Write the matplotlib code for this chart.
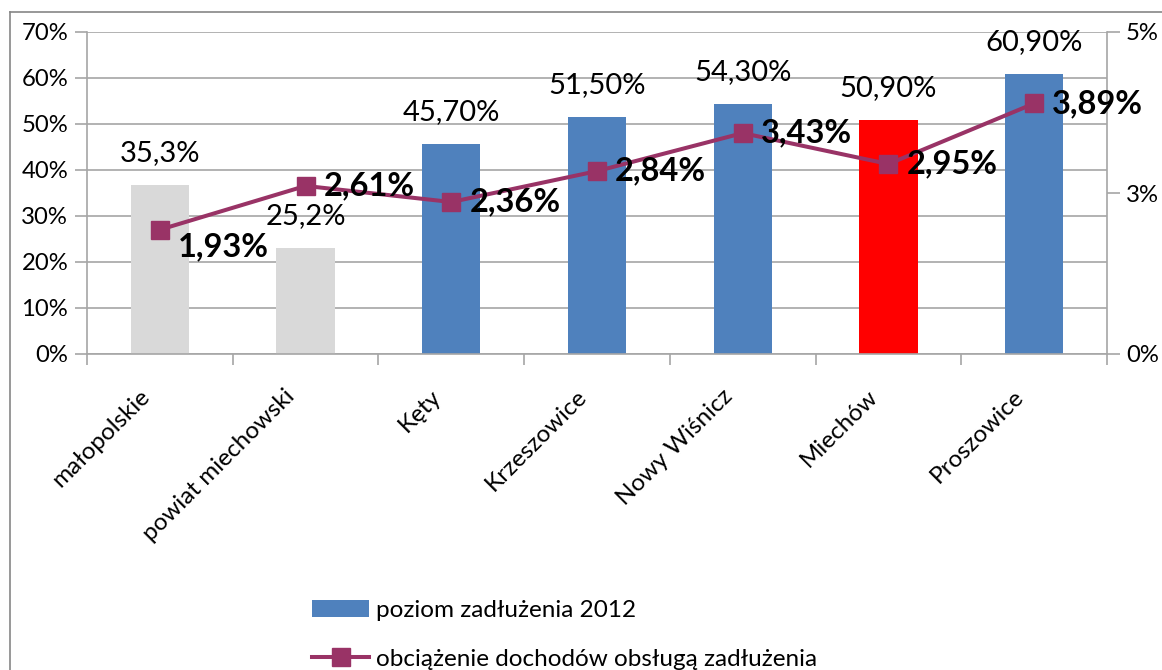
import matplotlib
matplotlib.use("Agg")
import matplotlib.pyplot as plt
import matplotlib.transforms as mtransforms
from matplotlib.lines import Line2D
from matplotlib.patches import Patch

plt.rcParams['font.family'] = ['Lato', 'DejaVu Sans']

categories = ["małopolskie", "powiat miechowski", "Kęty", "Krzeszowice",
              "Nowy Wiśnicz", "Miechów", "Proszowice"]
debt_level = [36.7, 23.1, 45.7, 51.5, 54.3, 50.9, 60.9]          # % (bar heights)
debt_labels = ["35,3%", "25,2%", "45,70%", "51,50%", "54,30%", "50,90%", "60,90%"]
debt_service = [1.93, 2.61, 2.36, 2.84, 3.43, 2.95, 3.89]          # %
service_labels = ["1,93%", "2,61%", "2,36%", "2,84%", "3,43%", "2,95%", "3,89%"]
bar_colors = ["#D9D9D9", "#D9D9D9", "#4F81BD", "#4F81BD", "#4F81BD", "#FF0000", "#4F81BD"]
left_ticks = [0, 10, 20, 30, 40, 50, 60, 70]
left_tick_labels = ["0%", "10%", "20%", "30%", "40%", "50%", "60%", "70%"]
right_ticks = [0, 2.5, 5]
right_tick_labels = ["0%", "3%", "5%"]
legend_labels = ["poziom zadłużenia 2012", "obciążenie dochodów obsługą zadłużenia"]

LINE_C = "#993366"
GRID_C = "#A6A6A6"
TXT = 17.2

fig = plt.figure(figsize=(11.62, 6.70), dpi=100)
ax = fig.add_axes([87/1162, 1-354/670, (1107-87)/1162, (354-32)/670])
x = list(range(len(categories)))

ax.bar(x, debt_level, width=0.4, color=bar_colors, zorder=2)
ax.set_xlim(-0.5, len(categories)-0.5)
ax.set_ylim(0, 70)
ax.set_yticks(left_ticks)
ax.set_yticklabels(left_tick_labels, fontsize=TXT)
ax.yaxis.grid(True, color=GRID_C, linewidth=1.2, zorder=0)
ax.set_axisbelow(True)
ax.set_xticks([i + 0.5 for i in range(-1, len(categories))], minor=False)
ax.set_xticklabels([])
ax.set_xticks(x, minor=True)
ax.set_xticklabels(categories, minor=True, fontsize=17.5)
ax.tick_params(axis='x', which='minor', length=0, pad=28)
ax.tick_params(axis='x', which='major', length=8, color=GRID_C, width=1.2)
ax.tick_params(axis='y', length=9, color=GRID_C, width=1.2, pad=4.5)
shift = mtransforms.ScaledTranslation(-14/100, 0, fig.dpi_scale_trans)
for lab in ax.get_xticklabels(minor=True):
    lab.set_rotation(45)
    lab.set_ha('right')
    lab.set_va('center')
    lab.set_rotation_mode('anchor')
    lab.set_transform(lab.get_transform() + shift)
for s in ['top', 'right']:
    ax.spines[s].set_visible(False)
for s in ['left', 'bottom']:
    ax.spines[s].set_color(GRID_C)
    ax.spines[s].set_linewidth(1.2)

for xi, h, lab in zip(x, debt_level, debt_labels):
    ax.annotate(lab, (xi, h), xytext=(0, 23), textcoords='offset points',
                ha='center', va='center', fontsize=21, zorder=5)

ax2 = ax.twinx()
ax2.set_ylim(0, 5)
ax2.set_yticks(right_ticks)
ax2.set_yticklabels(right_tick_labels, fontsize=TXT)
ax2.tick_params(axis='y', length=9, color=GRID_C, width=1.2, pad=4.5)
for s in ['top', 'left', 'bottom']:
    ax2.spines[s].set_visible(False)
ax2.spines['right'].set_color(GRID_C)
ax2.spines['right'].set_linewidth(1.2)
ax2.plot(x, debt_service, color=LINE_C, linewidth=2.9, marker='s',
         markersize=12.5, zorder=4)
for i, (xi, v, lab) in enumerate(zip(x, debt_service, service_labels)):
    dy = -12 if i == 0 else 0
    ax2.annotate(lab, (xi, v), xytext=(13, dy), textcoords='offset points',
                 ha='left', va='center', fontsize=23.5, fontweight='bold', zorder=6)

# legend
handles = [Patch(facecolor="#4F81BD", edgecolor='none'),
           Line2D([0], [0], color=LINE_C, linewidth=2.9, marker='s', markersize=12.5)]
fig.legend(handles, legend_labels, loc='upper left', bbox_to_anchor=(312/1162, 1-600/670),
           frameon=False, fontsize=17.5, handlelength=2.35, handleheight=0.72,
           handletextpad=0.3, labelspacing=1.12, borderpad=0.0, borderaxespad=0.0)

# outer chart border (extends beyond the image)
fig.add_artist(Line2D([10/1162, 10/1162], [0, 1-12/670], color="#868686", linewidth=1.2))
fig.add_artist(Line2D([10/1162, 1], [1-12/670, 1-12/670], color="#868686", linewidth=1.2))

fig.savefig("out.png", dpi=100)
